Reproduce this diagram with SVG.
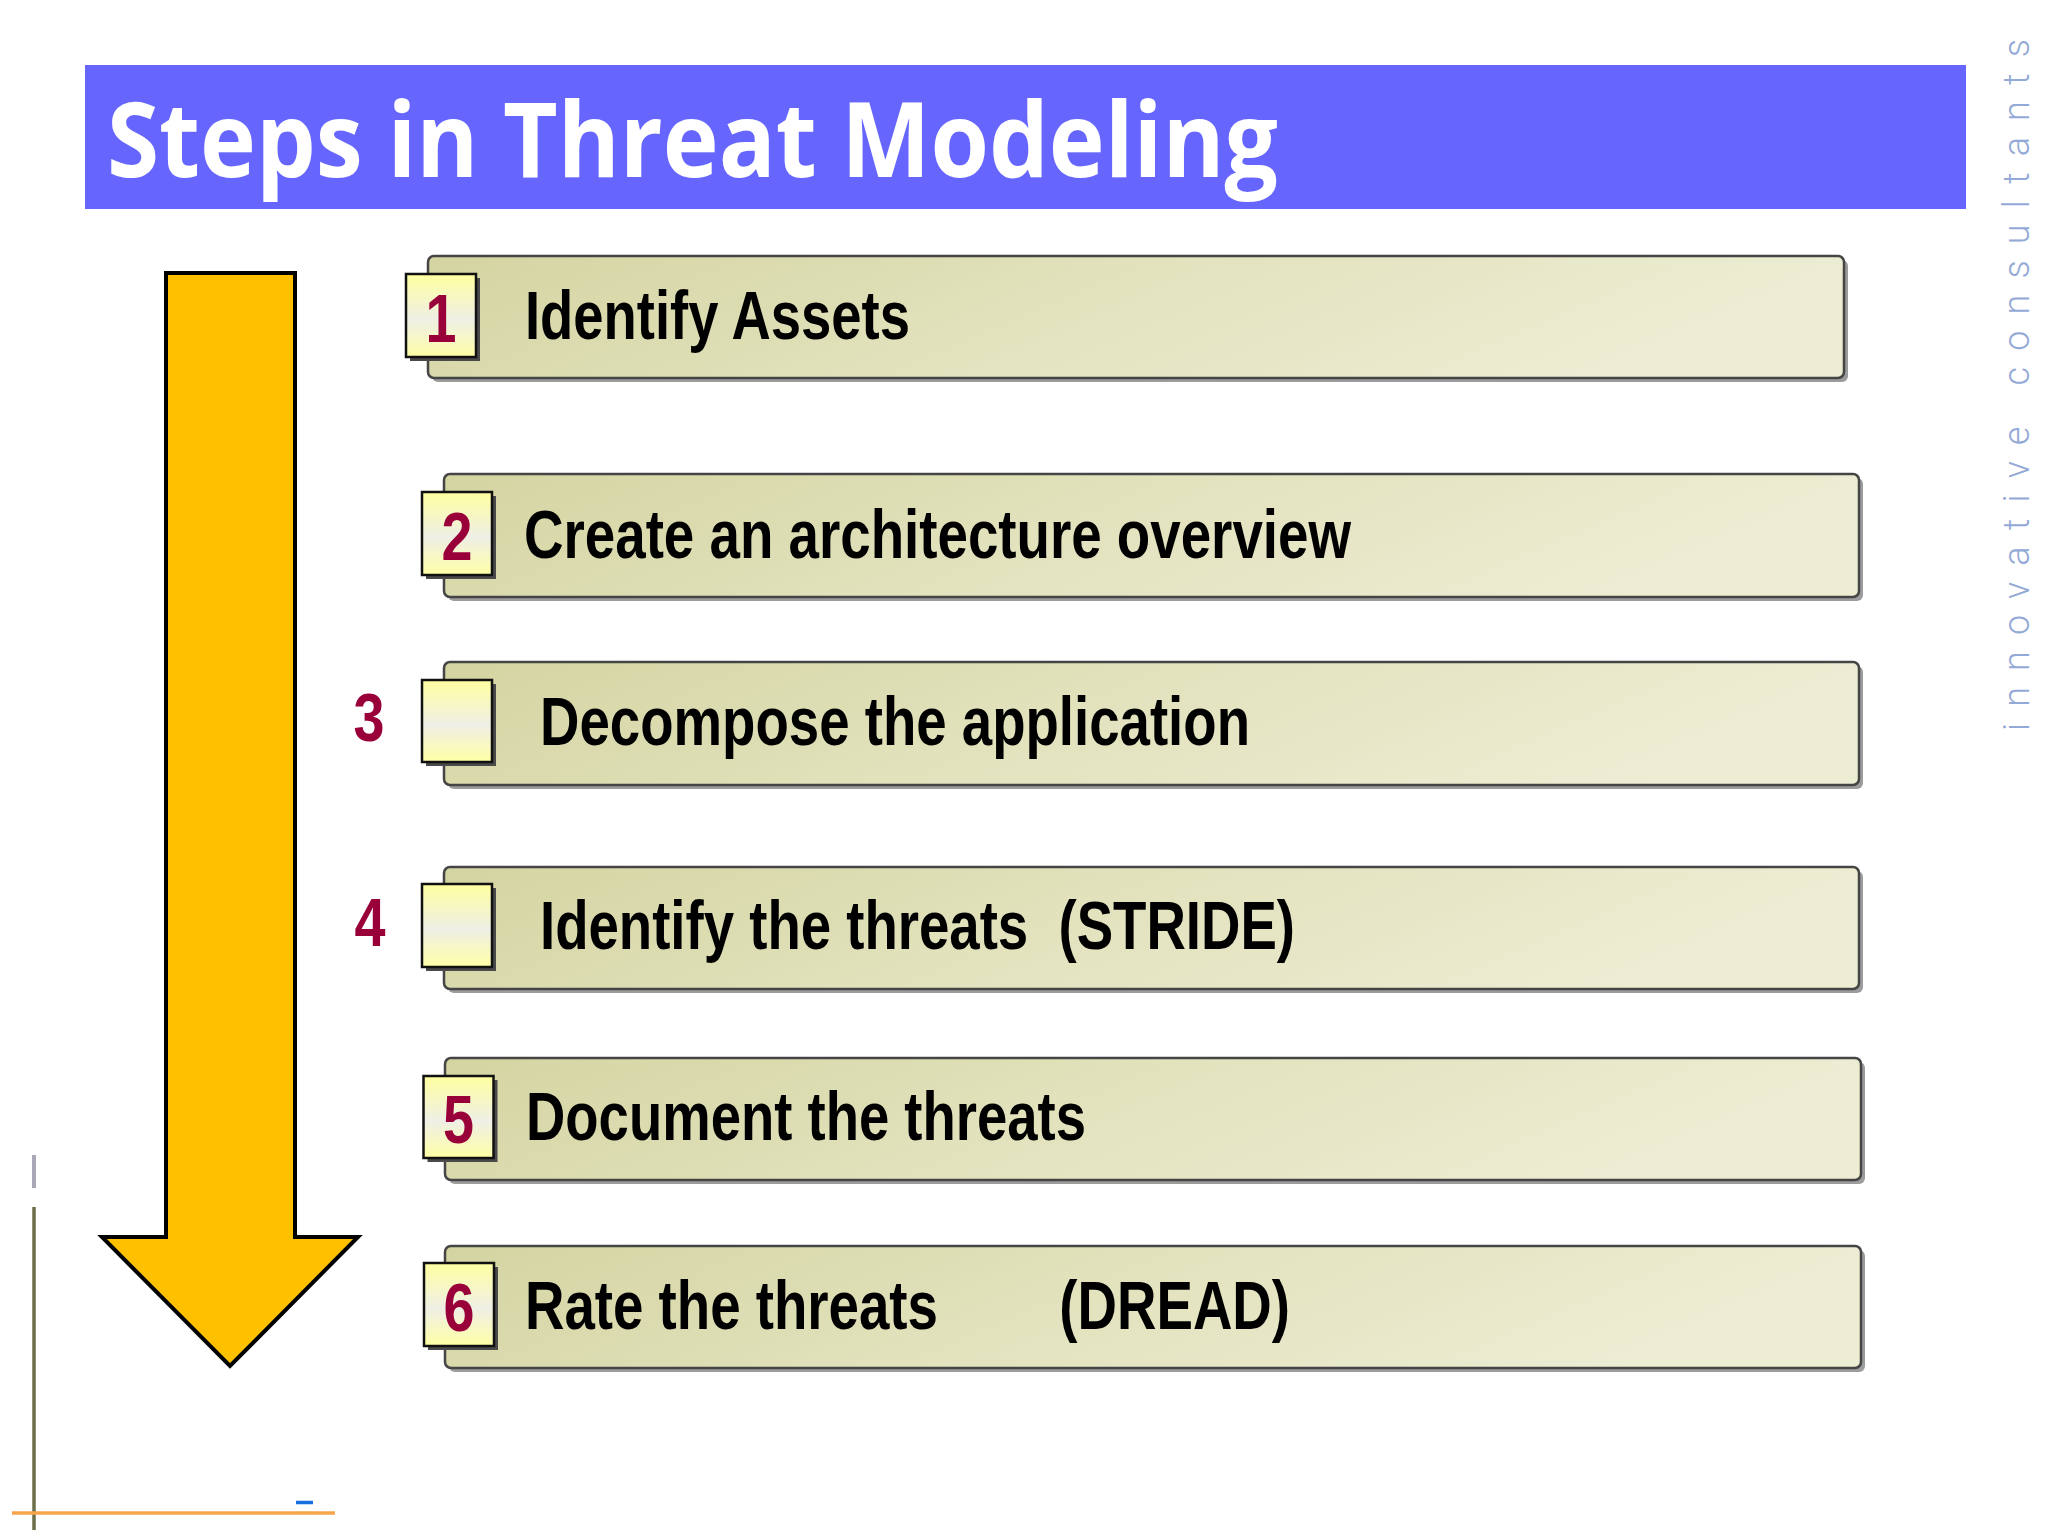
<svg xmlns="http://www.w3.org/2000/svg" width="2048" height="1536" viewBox="0 0 2048 1536">
<defs>
<linearGradient id="boxFill" x1="0" y1="0" x2="1" y2="0.2">
<stop offset="0" stop-color="#D4D4A2"/>
<stop offset="0.5" stop-color="#E2E2BD"/>
<stop offset="1" stop-color="#EDEDD4"/>
</linearGradient>
<linearGradient id="sqFill" x1="0" y1="0" x2="0" y2="1">
<stop offset="0" stop-color="#FFFFA0"/>
<stop offset="0.55" stop-color="#EFEFE6"/>
<stop offset="1" stop-color="#FFFFA6"/>
</linearGradient>
</defs>
<style>
.shadow{fill:#9C9C9C}
.box{fill:url(#boxFill);stroke:#454545;stroke-width:2.5}
.sqsh{fill:#4A4A4A}
.sq{fill:url(#sqFill);stroke:#111;stroke-width:2.5}
.lbl{font-family:"Liberation Sans",Arial,sans-serif;font-weight:bold;font-size:68px;fill:#000;white-space:pre}
.num{font-family:"Liberation Sans",Arial,sans-serif;font-weight:bold;font-size:68px;fill:#99003A;text-anchor:middle}
</style>
<rect width="2048" height="1536" fill="#FFFFFF"/>

<g id="title">
<rect x="85" y="65" width="1881" height="144" fill="#6666FF"/>
<text x="107" y="177" font-family="'Open Sans','DejaVu Sans',sans-serif" font-weight="bold" font-size="104" fill="#FFFFFF" textLength="1171" lengthAdjust="spacingAndGlyphs">Steps in Threat Modeling</text>
</g>

<g id="brand">
<text transform="translate(2029,731) rotate(-90)" x="0" y="0" font-family="Roboto,'Liberation Sans',sans-serif" font-weight="300" font-size="36" fill="#93A9D6" textLength="692" lengthAdjust="spacing">innovative consultants</text>
</g>

<g id="arrow">
<polygon points="166,273 295,273 295,1237 358,1237 230,1366 102,1237 166,1237" fill="#FFC000" stroke="#000" stroke-width="4" stroke-linejoin="miter"/>
</g>

<g id="step1">
<rect class="shadow" x="432" y="260" width="1416" height="122" rx="6"/>
<rect class="box" x="428" y="256" width="1416" height="122" rx="6"/>
<rect class="sqsh" x="410" y="278" width="70" height="83"/>
<rect class="sq" x="406" y="274" width="70" height="83"/>
<text class="num" x="441" y="342" textLength="31" lengthAdjust="spacingAndGlyphs">1</text>
<text class="lbl" x="525" y="339" textLength="385" lengthAdjust="spacingAndGlyphs">Identify Assets</text>
</g>

<g id="step2">
<rect class="shadow" x="448" y="478" width="1415" height="123" rx="6"/>
<rect class="box" x="444" y="474" width="1415" height="123" rx="6"/>
<rect class="sqsh" x="426" y="496" width="70" height="83"/>
<rect class="sq" x="422" y="492" width="70" height="83"/>
<text class="num" x="457" y="560" textLength="31" lengthAdjust="spacingAndGlyphs">2</text>
<text class="lbl" x="524" y="558" textLength="827" lengthAdjust="spacingAndGlyphs">Create an architecture overview</text>
</g>

<g id="step3">
<rect class="shadow" x="448" y="666" width="1415" height="123" rx="6"/>
<rect class="box" x="444" y="662" width="1415" height="123" rx="6"/>
<rect class="sqsh" x="426" y="684" width="70" height="82"/>
<rect class="sq" x="422" y="680" width="70" height="82"/>
<text class="num" x="369" y="741" textLength="31" lengthAdjust="spacingAndGlyphs">3</text>
<text class="lbl" x="540" y="745" textLength="710" lengthAdjust="spacingAndGlyphs">Decompose the application</text>
</g>

<g id="step4">
<rect class="shadow" x="448" y="871" width="1415" height="122" rx="6"/>
<rect class="box" x="444" y="867" width="1415" height="122" rx="6"/>
<rect class="sqsh" x="426" y="888" width="70" height="83"/>
<rect class="sq" x="422" y="884" width="70" height="83"/>
<text class="num" x="370" y="946" textLength="31" lengthAdjust="spacingAndGlyphs">4</text>
<text class="lbl" xml:space="preserve" x="540" y="949" textLength="755" lengthAdjust="spacingAndGlyphs">Identify the threats  (STRIDE)</text>
</g>

<g id="step5">
<rect class="shadow" x="449" y="1062" width="1416" height="122" rx="6"/>
<rect class="box" x="445" y="1058" width="1416" height="122" rx="6"/>
<rect class="sqsh" x="427.5" y="1080" width="70" height="82"/>
<rect class="sq" x="423.5" y="1076" width="70" height="82"/>
<text class="num" x="458.5" y="1143" textLength="31" lengthAdjust="spacingAndGlyphs">5</text>
<text class="lbl" x="526" y="1140" textLength="560" lengthAdjust="spacingAndGlyphs">Document the threats</text>
</g>

<g id="step6">
<rect class="shadow" x="449" y="1250" width="1416" height="122" rx="6"/>
<rect class="box" x="445" y="1246" width="1416" height="122" rx="6"/>
<rect class="sqsh" x="428" y="1267" width="70" height="83"/>
<rect class="sq" x="424" y="1263" width="70" height="83"/>
<text class="num" x="459" y="1331" textLength="31" lengthAdjust="spacingAndGlyphs">6</text>
<text class="lbl" xml:space="preserve" x="525" y="1329" textLength="765" lengthAdjust="spacingAndGlyphs">Rate the threats        (DREAD)</text>
</g>

<g id="corner-marks">
<line x1="34" y1="1155" x2="34" y2="1188" stroke="#A8A8B8" stroke-width="4"/>
<line x1="34" y1="1207" x2="34" y2="1530" stroke="#6B6E48" stroke-width="3.5"/>
<line x1="12" y1="1513" x2="335" y2="1513" stroke="#F7A54A" stroke-width="3.5"/>
<line x1="296" y1="1502.5" x2="313" y2="1502.5" stroke="#1A6FE0" stroke-width="3.5"/>
</g>
</svg>
